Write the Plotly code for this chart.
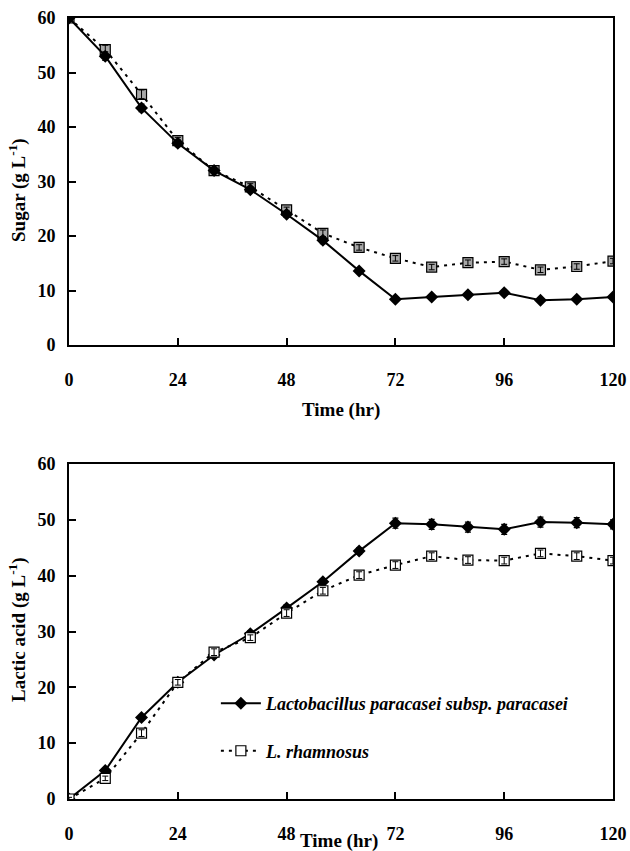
import plotly.graph_objects as go
from plotly.subplots import make_subplots

# Fermentation time (hr)
time_hr = [0, 8, 16, 24, 32, 40, 48, 56, 64, 72, 80, 88, 96, 104, 112, 120]

# Residual sugar (g/L)
sugar_para = [60.0, 53.0, 43.5, 37.0, 32.0, 28.5, 24.0, 19.2, 13.6, 8.4, 8.8, 9.2, 9.6, 8.2, 8.4, 8.8]
sugar_para_err = [0.4, 0.8, 0.7, 0.6, 0.5, 0.5, 0.6, 0.6, 0.4, 0.3, 0.3, 0.3, 0.3, 0.3, 0.3, 0.3]
sugar_rham = [60.0, 54.2, 46.0, 37.5, 32.0, 29.0, 24.8, 20.5, 17.9, 15.9, 14.3, 15.1, 15.3, 13.8, 14.4, 15.4]
sugar_rham_err = [0.4, 0.8, 0.8, 0.6, 0.5, 0.6, 0.5, 0.6, 0.5, 0.5, 0.5, 0.5, 0.5, 0.5, 0.5, 0.5]

# Lactic acid produced (g/L)
lactic_para = [0.0, 5.1, 14.6, 20.9, 25.8, 29.6, 34.2, 38.9, 44.4, 49.4, 49.2, 48.7, 48.3, 49.6, 49.5, 49.2]
lactic_para_err = [0.3, 0.4, 0.4, 0.5, 0.5, 0.5, 0.6, 0.6, 0.6, 0.9, 0.9, 0.9, 0.9, 0.9, 0.9, 0.8]
lactic_rham = [0.0, 3.7, 11.8, 20.9, 26.3, 28.9, 33.3, 37.3, 40.1, 41.9, 43.5, 42.8, 42.7, 44.0, 43.5, 42.7]
lactic_rham_err = [0.3, 0.4, 0.6, 0.5, 0.6, 0.5, 0.6, 0.6, 0.6, 0.6, 0.6, 0.6, 0.6, 0.6, 0.6, 0.6]

x_ticks = [0, 24, 48, 72, 96, 120]
y_ticks = [0, 10, 20, 30, 40, 50, 60]

name_para = "<b><i>Lactobacillus paracasei subsp. paracasei</i></b>"
name_rham = "<b><i>L. rhamnosus</i></b>"

FONT = "Liberation Serif"
DOT = "3px,5px"

fig = make_subplots(rows=2, cols=1, vertical_spacing=0.15)


def err(vals, thick=1.2):
    return dict(type="data", array=vals, visible=True, color="black",
                thickness=thick, width=3)


def bars_on_top(y, e, row):
    # error bars repeated above the open squares so they show through
    fig.add_trace(go.Scatter(
        x=time_hr, y=y, mode="markers", showlegend=False, hoverinfo="skip",
        marker=dict(size=1, opacity=0), error_y=err(e, 1.0)), row=row, col=1)


# Sugar panel
fig.add_trace(go.Scatter(
    x=time_hr, y=sugar_rham, mode="lines+markers", showlegend=False,
    line=dict(color="black", width=2, dash=DOT),
    marker=dict(symbol="square", size=10, color="#a8a8a8",
                line=dict(color="black", width=1.2)),
    error_y=err(sugar_rham_err)), row=1, col=1)
bars_on_top(sugar_rham, sugar_rham_err, 1)
fig.add_trace(go.Scatter(
    x=time_hr, y=sugar_para, mode="lines+markers", showlegend=False,
    line=dict(color="black", width=2),
    marker=dict(symbol="diamond", size=10, color="black"),
    error_y=err(sugar_para_err)), row=1, col=1)

# Lactic acid panel
fig.add_trace(go.Scatter(
    x=time_hr, y=lactic_para, mode="lines+markers", name=name_para,
    legendgroup="para",
    line=dict(color="black", width=2),
    marker=dict(symbol="diamond", size=10, color="black"),
    error_y=err(lactic_para_err)), row=2, col=1)
fig.add_trace(go.Scatter(
    x=time_hr, y=lactic_rham, mode="lines+markers", name=name_rham,
    legendgroup="rham",
    line=dict(color="black", width=2, dash=DOT),
    marker=dict(symbol="square", size=10, color="white",
                line=dict(color="black", width=1.2)),
    error_y=err(lactic_rham_err)), row=2, col=1)
bars_on_top(lactic_rham, lactic_rham_err, 2)

axis_common = dict(
    showline=True, linecolor="black", linewidth=2, mirror=True,
    showgrid=False, zeroline=False, ticks="inside", ticklen=7,
    tickwidth=2, tickcolor="black", automargin=False,
    tickfont=dict(family=FONT, size=18, color="black", weight="bold"),
)

for r in (1, 2):
    fig.update_xaxes(range=[0, 120], tickvals=x_ticks, ticklabelstandoff=17,
                     **axis_common, row=r, col=1)
    fig.update_yaxes(range=[0, 60], tickvals=y_ticks, ticklabelstandoff=8,
                     **axis_common, row=r, col=1)

fig.update_layout(
    width=630, height=851,
    margin=dict(l=69, r=17, t=18, b=52),
    paper_bgcolor="white", plot_bgcolor="white",
    font=dict(family=FONT, color="black"),
    legend=dict(x=0.27, y=0.092, xanchor="left", yanchor="middle",
                bgcolor="rgba(0,0,0,0)", tracegroupgap=21,
                itemwidth=40,
                font=dict(family=FONT, size=18, color="black")),
)

# Panel domains
fig.update_yaxes(domain=[0.5813, 1.0], row=1, col=1)
fig.update_yaxes(domain=[0.0, 0.4289], row=2, col=1)

title_font = dict(family=FONT, size=19, color="black")
fig.add_annotation(text="<b>Time (hr)</b>", xref="paper", yref="paper",
                   x=0.5, y=(851 - 52 - 410) / 781, showarrow=False,
                   font=title_font, xanchor="center", yanchor="middle")
fig.add_annotation(text="<b>Time (hr)</b>", xref="paper", yref="paper",
                   x=(339 - 69) / 544, y=(851 - 52 - 841) / 781, showarrow=False,
                   font=title_font, xanchor="center", yanchor="middle")
fig.add_annotation(text="<b>Sugar (g L<sup>-1</sup>)</b>", xref="paper", yref="paper",
                   x=(17 - 69) / 544, y=(851 - 52 - 190) / 781, showarrow=False,
                   textangle=-90, font=title_font, xanchor="center", yanchor="middle")
fig.add_annotation(text="<b>Lactic acid (g L<sup>-1</sup>)</b>", xref="paper", yref="paper",
                   x=(17 - 69) / 544, y=(851 - 52 - 630) / 781, showarrow=False,
                   textangle=-90, font=title_font, xanchor="center", yanchor="middle")

fig.write_html("out.html")
